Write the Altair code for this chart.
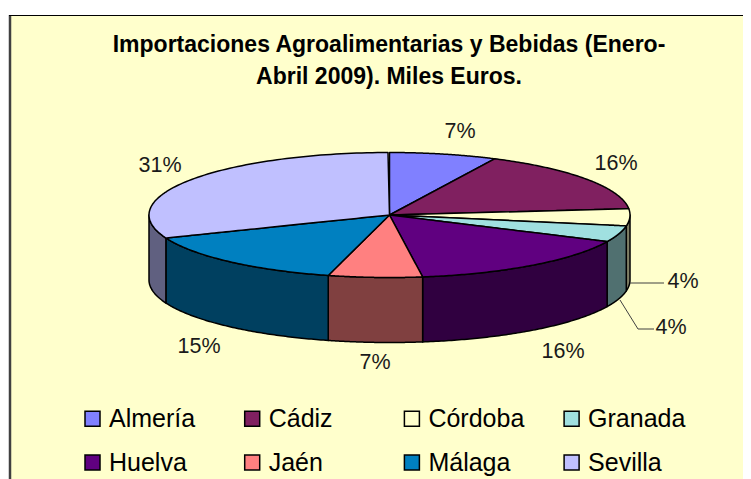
import altair as alt
import numpy as np
import pandas as pd

names = ["Almería", "Cádiz", "Córdoba", "Granada", "Huelva", "Jaén", "Málaga", "Sevilla"]
values = [7.2, 16.2, 4.4, 4.2, 15.8, 6.3, 14.9, 30.9]
percent_labels = ["7%", "16%", "4%", "4%", "16%", "7%", "15%", "31%"]
top_colors = ["#8080FF", "#802060", "#FFFFCC", "#A0E0E0", "#600080", "#FF8080", "#0080C0", "#C0C0FF"]
wall_colors = ["#404080", "#401030", "#808066", "#507070", "#300040", "#804040", "#004060", "#606080"]
label_x = [460, 616, 683, 671, 563, 375, 199, 160]
label_y = [132, 164, 282, 328, 352, 363, 347, 166]
title_lines = ["Importaciones Agroalimentarias y Bebidas (Enero-", "Abril 2009). Miles Euros."]

W, H = 734, 464
OX, OY = 9, 15
CX, CY, RX, RY, DEPTH = 389.5 - OX, 215 - OY, 240.5, 62.5, 65


def pt(theta):
    return CX + RX * np.sin(theta), CY - RY * np.cos(theta)


edges = np.radians(np.concatenate([[0], np.cumsum(values)]) * 3.6)

top_rows, wall_rows = [], []
for i, name in enumerate(names):
    a, b = edges[i], edges[i + 1]
    arc = np.linspace(a, b, 90)
    px, py = pt(arc)
    poly_x = np.concatenate([[CX], px])
    poly_y = np.concatenate([[CY], py])
    xs = np.unique(np.round(poly_x, 3))
    n = len(poly_x)
    for x in xs:
        hits = []
        for j in range(n):
            x0, y0, x1, y1 = poly_x[j], poly_y[j], poly_x[(j + 1) % n], poly_y[(j + 1) % n]
            lo, hi = min(x0, x1) - 0.002, max(x0, x1) + 0.002
            if lo <= x <= hi:
                if abs(x1 - x0) < 1e-6:
                    hits += [y0, y1]
                else:
                    hits.append(y0 + (y1 - y0) * (x - x0) / (x1 - x0))
        top_rows.append({"name": name, "x": float(x), "y": float(min(hits)), "y2": float(max(hits))})
    lo = max(a, np.pi / 2)
    hi = min(b, 3 * np.pi / 2)
    if hi > lo:
        wx, wy = pt(np.linspace(lo, hi, 90))
        for x, y in zip(wx, wy):
            wall_rows.append({"name": name, "x": float(x), "y": float(y), "y2": float(y + DEPTH)})

top_df = pd.DataFrame(top_rows)
wall_df = pd.DataFrame(wall_rows)
label_df = pd.DataFrame({
    "text": percent_labels,
    "x": np.array(label_x) - OX,
    "y": np.array(label_y) - OY,
})
leader_df = pd.DataFrame({
    "id": ["a", "a", "b", "b", "b"],
    "order": [0, 1, 0, 1, 2],
    "x": np.array([630, 664, 620, 638, 654]) - OX,
    "y": np.array([283, 283, 300, 329, 329]) - OY,
})

xs = alt.Scale(domain=[0, W], range=[0, W], nice=False, zero=False)
ys = alt.Scale(domain=[0, H], range=[0, H], nice=False, zero=False)
X = alt.X("x:Q", scale=xs, axis=None)
Y = alt.Y("y:Q", scale=ys, axis=None, stack=None)

walls = alt.Chart(wall_df).mark_area(stroke="black", strokeWidth=1.5, strokeJoin="round", opacity=1).encode(
    x=X, y=Y, y2="y2:Q",
    color=alt.Color("name:N", scale=alt.Scale(domain=names, range=wall_colors), legend=None),
)
tops = alt.Chart(top_df).mark_area(stroke="black", strokeWidth=1.5, strokeJoin="round", opacity=1).encode(
    x=X, y=Y, y2="y2:Q",
    color=alt.Color(
        "name:N",
        scale=alt.Scale(domain=names, range=top_colors),
        legend=alt.Legend(
            title=None, orient="none", legendX=71, legendY=391, columns=4, direction="horizontal",
            symbolType="square", symbolSize=225, symbolStrokeColor="black", symbolStrokeWidth=1.5,
            symbolOpacity=1, labelFont="Liberation Sans", labelFontSize=25, labelColor="black",
            labelOffset=4, columnPadding=32.7, rowPadding=18, gridAlign="all", labelLimit=200,
        ),
    ),
)
labels = alt.Chart(label_df).mark_text(font="Liberation Sans", fontSize=21.5, color="#1a1a1a").encode(
    x=X, y=alt.Y("y:Q", scale=ys, axis=None), text="text:N"
)
leaders = alt.Chart(leader_df).mark_line(color="#404040", strokeWidth=1).encode(
    x=X, y=alt.Y("y:Q", scale=ys, axis=None), detail="id:N", order="order:Q"
)
left_border = alt.Chart(pd.DataFrame({"k": [0]})).mark_rule(color="#404040", strokeWidth=2.5).encode(
    x=alt.value(1), y=alt.value(0), y2=alt.value(H)
)
top_border = alt.Chart(pd.DataFrame({"k": [0]})).mark_rule(color="black", strokeWidth=1.2).encode(
    x=alt.value(0), x2=alt.value(W), y=alt.value(0.5)
)

chart = (
    alt.layer(walls, tops, leaders, labels, left_border, top_border)
    .resolve_scale(color="independent")
    .properties(
        width=W, height=H,
        padding={"left": 1, "top": 7, "right": 0, "bottom": 0},
        autosize=alt.AutoSizeParams(type="none"),
        background="white",
        title=alt.TitleParams(
            text=title_lines, anchor="middle", font="Liberation Sans", fontSize=23,
            fontWeight="bold", color="black", lineHeight=32, baseline="middle",
            dx=13, dy=90,
        ),
    )
    .configure_view(fill="#FFFFCC", stroke=None)
)

chart.save("out.html", embed_options={"renderer": "svg", "actions": False})
